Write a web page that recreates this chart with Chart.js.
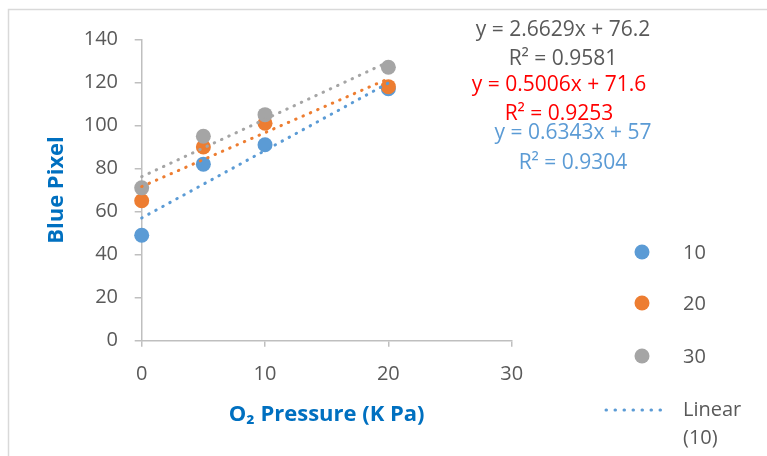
<!DOCTYPE html>
<html>
<head>
<meta charset="utf-8">
<script src="https://cdn.jsdelivr.net/npm/chart.js@4.4.1/dist/chart.umd.min.js"></script>
<style>
  html, body { margin: 0; padding: 0; background: #ffffff; }
  #wrap { position: relative; width: 767px; height: 456px; }
</style>
</head>
<body>
<div id="wrap"><canvas id="c" width="767" height="456"></canvas></div>
<script>
// ---- data ----
const pressure = [0, 5, 10, 20];            // O2 pressure (K Pa)
const series10 = [49, 82, 91, 117];
const series20 = [65, 90, 101, 118];
const series30 = [71, 95, 105, 127];
const seriesNames = ['10', '20', '30'];
const trendX = [0, 20];
const trend10 = [57, 119.7];
const trend20 = [71.6, 121.7];
const trend30 = [76.2, 129.5];
const eq10 = ['y = 0.6343x + 57', 'R\u00B2 = 0.9304'];
const eq20 = ['y = 0.5006x + 71.6', 'R\u00B2 = 0.9253'];
const eq30 = ['y = 2.6629x + 76.2', 'R\u00B2 = 0.9581'];
const xTicks = [0, 10, 20, 30];
const yTicks = [0, 20, 40, 60, 80, 100, 120, 140];

const C_BLUE = '#5B9BD5', C_ORANGE = '#ED7D31', C_GRAY = '#A5A5A5';
const FONT = "'Open Sans', 'Noto Sans', 'DejaVu Sans', sans-serif";

function pts(xs, ys) { return xs.map((x, i) => ({ x: x, y: ys[i] })); }

function pointSet(label, ys, color, order) {
  return { type: 'scatter', label: label, data: pts(pressure, ys), backgroundColor: color,
    borderColor: color, pointRadius: 7.5, pointHoverRadius: 7.5, borderWidth: 0, order: order, clip: false };
}
function trendSet(label, ys, color) {
  return { type: 'line', label: label, data: pts(trendX, ys), borderColor: color,
    backgroundColor: color, borderWidth: 3, borderDash: [0.5, 7.5], borderCapStyle: 'round',
    pointRadius: 0, fill: false, tension: 0, order: 0, clip: false };
}

const framePlugin = {
  id: 'frame',
  beforeDraw(chart) {
    const ctx = chart.ctx;
    ctx.save();
    ctx.strokeStyle = '#d9d9d9';
    ctx.lineWidth = 1.5;
    ctx.strokeRect(8.5, 9.5, 800, 500);
    ctx.restore();
  }
};

const labelPlugin = {
  id: 'eqLabels',
  afterDraw(chart) {
    const ctx = chart.ctx;
    ctx.save();
    ctx.font = '21px ' + FONT;
    ctx.textAlign = 'center';
    ctx.textBaseline = 'middle';
    const groups = [
      { lines: eq30, color: '#595959', x: 563, y: [30, 59] },
      { lines: eq20, color: '#FF0000', x: 559, y: [85, 114] },
      { lines: eq10, color: C_BLUE, x: 573, y: [133, 163] }
    ];
    groups.forEach(g => {
      ctx.fillStyle = g.color;
      g.lines.forEach((t, i) => ctx.fillText(t, g.x, g.y[i]));
    });

    // legend
    ctx.font = '20px ' + FONT;
    const colors = [C_BLUE, C_ORANGE, C_GRAY];
    const ys = [252, 303, 356];
    ctx.textAlign = 'left';
    seriesNames.forEach((n, i) => {
      ctx.fillStyle = colors[i];
      ctx.beginPath();
      ctx.arc(642, ys[i], 7.5, 0, Math.PI * 2);
      ctx.fill();
      ctx.fillStyle = '#595959';
      ctx.fillText(n, 683, ys[i] + 1);
    });
    ctx.strokeStyle = C_BLUE;
    ctx.lineWidth = 3;
    ctx.lineCap = 'round';
    ctx.setLineDash([0.5, 8.5]);
    ctx.beginPath();
    ctx.moveTo(606, 410);
    ctx.lineTo(668, 410);
    ctx.stroke();
    ctx.setLineDash([]);
    ctx.fillStyle = '#595959';
    ctx.fillText('Linear', 683, 410);
    ctx.fillText('(' + seriesNames[0] + ')', 683, 438);
    ctx.restore();
  }
};

new Chart(document.getElementById('c'), {
  data: {
    datasets: [
      trendSet('Linear (10)', trend10, C_BLUE),
      trendSet('Linear (20)', trend20, C_ORANGE),
      trendSet('Linear (30)', trend30, C_GRAY),
      pointSet(seriesNames[2], series30, C_GRAY, 1),
      pointSet(seriesNames[1], series20, C_ORANGE, 2),
      pointSet(seriesNames[0], series10, C_BLUE, 3)
    ]
  },
  options: {
    responsive: false,
    animation: false,
    devicePixelRatio: 1,
    layout: { padding: { left: 44, right: 255.3, top: 39.3, bottom: 0 } },
    plugins: { legend: { display: false }, tooltip: { enabled: false } },
    scales: {
      x: {
        type: 'linear', min: 0, max: 30,
        afterFit(s) { s.height = 456 - 340.7; },
        afterBuildTicks(s) { s.ticks = xTicks.map(v => ({ value: v })); },
        grid: { drawOnChartArea: false, drawTicks: true, tickLength: 6, color: '#bfbfbf', lineWidth: 1.5 },
        border: { color: '#bfbfbf', width: 1.5 },
        ticks: { color: '#595959', font: { family: FONT, size: 20 }, padding: 16 },
        title: { display: true, text: 'O\u2082 Pressure (K Pa)', color: '#0070C0',
          font: { family: FONT, size: 22, weight: 'bold' }, padding: { top: 0, bottom: 28.5 } }
      },
      y: {
        type: 'linear', min: 0, max: 140,
        afterFit(s) { s.width = 141.7 - 44; },
        afterBuildTicks(s) { s.ticks = yTicks.map(v => ({ value: v })); },
        grid: { drawOnChartArea: false, drawTicks: true, tickLength: 7, color: '#bfbfbf', lineWidth: 1.5 },
        border: { color: '#bfbfbf', width: 1.5 },
        ticks: { color: '#595959', font: { family: FONT, size: 20 }, padding: 16.7 },
        title: { display: true, text: 'Blue Pixel', color: '#0070C0',
          font: { family: FONT, size: 22, weight: 'bold' }, padding: { top: 0, bottom: 0 } }
      }
    }
  },
  plugins: [framePlugin, labelPlugin]
});
</script>
</body>
</html>
